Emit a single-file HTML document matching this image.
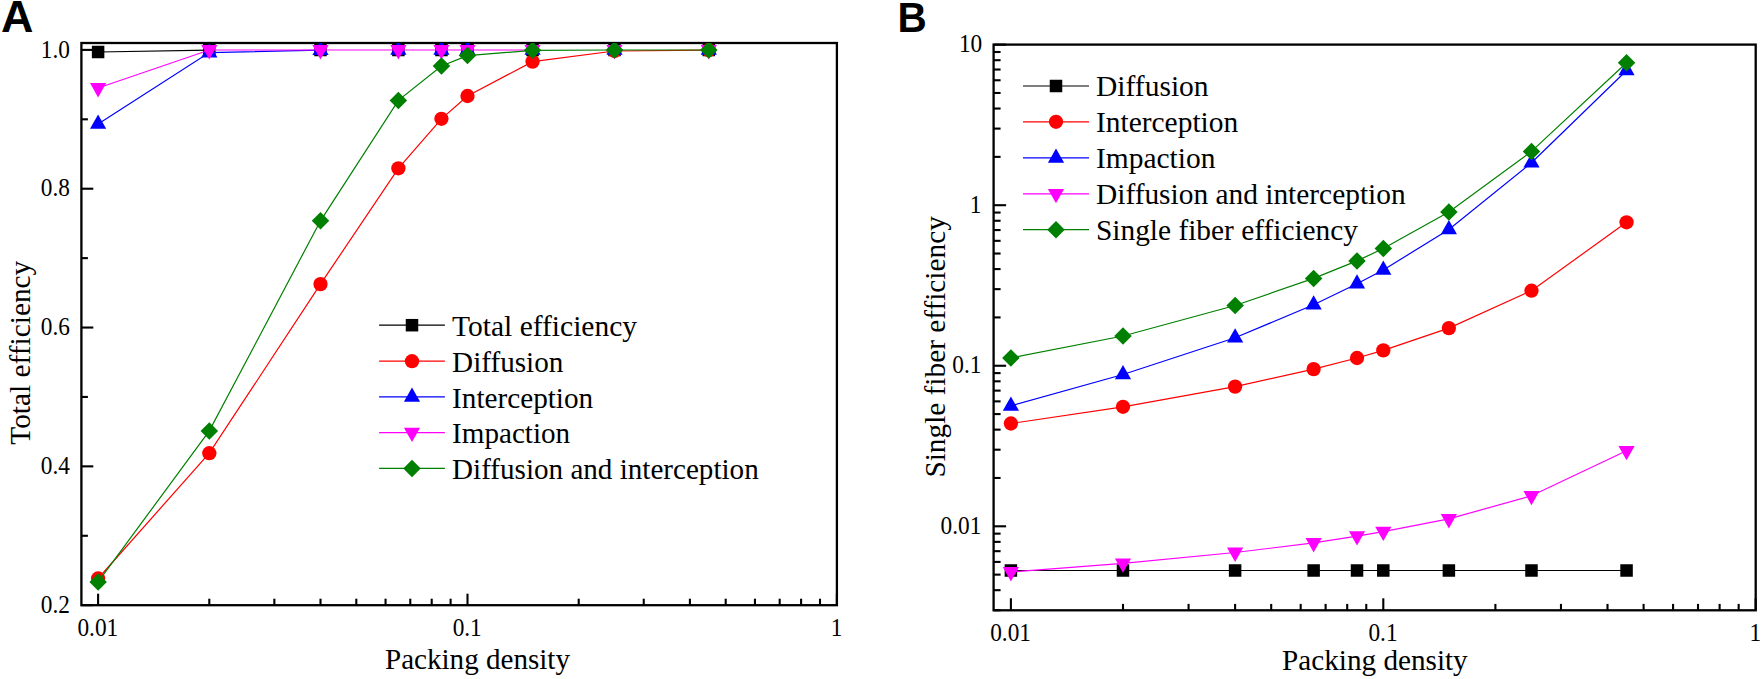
<!DOCTYPE html>
<html><head><meta charset="utf-8"><title>Figure</title>
<style>html,body{margin:0;padding:0;background:#fff}svg{display:block}</style></head>
<body><svg width="1762" height="679" viewBox="0 0 1762 679">
<rect width="1762" height="679" fill="#ffffff"/>
<g id="panelA">
<line x1="81.4" y1="605.18" x2="93.30000000000001" y2="605.18" stroke="#000" stroke-width="2.1"/>
<line x1="81.4" y1="466.36" x2="93.30000000000001" y2="466.36" stroke="#000" stroke-width="2.1"/>
<line x1="81.4" y1="327.54" x2="93.30000000000001" y2="327.54" stroke="#000" stroke-width="2.1"/>
<line x1="81.4" y1="188.72" x2="93.30000000000001" y2="188.72" stroke="#000" stroke-width="2.1"/>
<line x1="81.4" y1="49.90" x2="93.30000000000001" y2="49.90" stroke="#000" stroke-width="2.1"/>
<line x1="81.4" y1="535.77" x2="87.9" y2="535.77" stroke="#000" stroke-width="2.1"/>
<line x1="81.4" y1="396.95" x2="87.9" y2="396.95" stroke="#000" stroke-width="2.1"/>
<line x1="81.4" y1="258.13" x2="87.9" y2="258.13" stroke="#000" stroke-width="2.1"/>
<line x1="81.4" y1="119.31" x2="87.9" y2="119.31" stroke="#000" stroke-width="2.1"/>
<line x1="98.10" y1="605.2" x2="98.10" y2="593.7" stroke="#000" stroke-width="2.1"/>
<line x1="209.30" y1="605.2" x2="209.30" y2="598.7" stroke="#000" stroke-width="2.1"/>
<line x1="274.35" y1="605.2" x2="274.35" y2="598.7" stroke="#000" stroke-width="2.1"/>
<line x1="320.50" y1="605.2" x2="320.50" y2="598.7" stroke="#000" stroke-width="2.1"/>
<line x1="356.30" y1="605.2" x2="356.30" y2="598.7" stroke="#000" stroke-width="2.1"/>
<line x1="385.55" y1="605.2" x2="385.55" y2="598.7" stroke="#000" stroke-width="2.1"/>
<line x1="410.28" y1="605.2" x2="410.28" y2="598.7" stroke="#000" stroke-width="2.1"/>
<line x1="431.70" y1="605.2" x2="431.70" y2="598.7" stroke="#000" stroke-width="2.1"/>
<line x1="450.60" y1="605.2" x2="450.60" y2="598.7" stroke="#000" stroke-width="2.1"/>
<line x1="467.50" y1="605.2" x2="467.50" y2="593.7" stroke="#000" stroke-width="2.1"/>
<line x1="578.70" y1="605.2" x2="578.70" y2="598.7" stroke="#000" stroke-width="2.1"/>
<line x1="643.75" y1="605.2" x2="643.75" y2="598.7" stroke="#000" stroke-width="2.1"/>
<line x1="689.90" y1="605.2" x2="689.90" y2="598.7" stroke="#000" stroke-width="2.1"/>
<line x1="725.70" y1="605.2" x2="725.70" y2="598.7" stroke="#000" stroke-width="2.1"/>
<line x1="754.95" y1="605.2" x2="754.95" y2="598.7" stroke="#000" stroke-width="2.1"/>
<line x1="779.68" y1="605.2" x2="779.68" y2="598.7" stroke="#000" stroke-width="2.1"/>
<line x1="801.10" y1="605.2" x2="801.10" y2="598.7" stroke="#000" stroke-width="2.1"/>
<line x1="820.00" y1="605.2" x2="820.00" y2="598.7" stroke="#000" stroke-width="2.1"/>
<line x1="836.90" y1="605.2" x2="836.90" y2="593.7" stroke="#000" stroke-width="2.1"/>
<rect x="81.4" y="43.0" width="755.5" height="562.2" fill="none" stroke="#000" stroke-width="2.3"/>
<clipPath id="clipA"><rect x="81.4" y="43.0" width="755.5" height="562.2"/></clipPath><g clip-path="url(#clipA)">
<polyline points="98.10,52.00 209.30,50.20" fill="none" stroke="#000000" stroke-width="1.2"/>
<rect x="91.85" y="45.75" width="12.50" height="12.50" fill="#000000"/>
<rect x="203.05" y="43.95" width="12.50" height="12.50" fill="#000000"/>
<rect x="314.25" y="43.75" width="12.50" height="12.50" fill="#000000"/>
<rect x="392.14" y="43.75" width="12.50" height="12.50" fill="#000000"/>
<rect x="435.18" y="43.75" width="12.50" height="12.50" fill="#000000"/>
<rect x="461.25" y="43.75" width="12.50" height="12.50" fill="#000000"/>
<rect x="526.30" y="43.75" width="12.50" height="12.50" fill="#000000"/>
<rect x="608.25" y="43.75" width="12.50" height="12.50" fill="#000000"/>
<rect x="702.55" y="43.75" width="12.50" height="12.50" fill="#000000"/>
<polyline points="98.10,578.50 209.30,453.20 320.50,284.10 398.39,168.30 441.43,118.80 467.50,96.00 532.55,61.60 614.50,51.00 708.80,50.20" fill="none" stroke="#ff0000" stroke-width="1.2"/>
<circle cx="98.10" cy="578.50" r="7.15" fill="#ff0000"/>
<circle cx="209.30" cy="453.20" r="7.15" fill="#ff0000"/>
<circle cx="320.50" cy="284.10" r="7.15" fill="#ff0000"/>
<circle cx="398.39" cy="168.30" r="7.15" fill="#ff0000"/>
<circle cx="441.43" cy="118.80" r="7.15" fill="#ff0000"/>
<circle cx="467.50" cy="96.00" r="7.15" fill="#ff0000"/>
<circle cx="532.55" cy="61.60" r="7.15" fill="#ff0000"/>
<circle cx="614.50" cy="51.00" r="7.15" fill="#ff0000"/>
<circle cx="708.80" cy="50.20" r="7.15" fill="#ff0000"/>
<polyline points="98.10,124.00 209.30,52.60 320.50,50.20" fill="none" stroke="#0000ff" stroke-width="1.2"/>
<polygon points="98.10,114.50 106.20,128.80 90.00,128.80" fill="#0000ff"/>
<polygon points="209.30,43.10 217.40,57.40 201.20,57.40" fill="#0000ff"/>
<polygon points="320.50,40.70 328.60,55.00 312.40,55.00" fill="#0000ff"/>
<polygon points="398.39,40.50 406.49,54.80 390.29,54.80" fill="#0000ff"/>
<polygon points="441.43,40.50 449.53,54.80 433.33,54.80" fill="#0000ff"/>
<polygon points="467.50,40.50 475.60,54.80 459.40,54.80" fill="#0000ff"/>
<polygon points="532.55,40.50 540.65,54.80 524.45,54.80" fill="#0000ff"/>
<polygon points="614.50,40.50 622.60,54.80 606.40,54.80" fill="#0000ff"/>
<polygon points="708.80,40.50 716.90,54.80 700.70,54.80" fill="#0000ff"/>
<polyline points="98.10,88.00 209.30,50.00 320.50,50.00 398.39,50.00 441.43,50.00 467.50,50.00 532.55,50.00" fill="none" stroke="#ff00ff" stroke-width="1.2"/>
<polygon points="98.10,97.50 106.20,83.10 90.00,83.10" fill="#ff00ff"/>
<polygon points="209.30,59.50 217.40,45.10 201.20,45.10" fill="#ff00ff"/>
<polygon points="320.50,59.50 328.60,45.10 312.40,45.10" fill="#ff00ff"/>
<polygon points="398.39,59.50 406.49,45.10 390.29,45.10" fill="#ff00ff"/>
<polygon points="441.43,59.50 449.53,45.10 433.33,45.10" fill="#ff00ff"/>
<polygon points="467.50,59.50 475.60,45.10 459.40,45.10" fill="#ff00ff"/>
<polygon points="532.55,59.50 540.65,45.10 524.45,45.10" fill="#ff00ff"/>
<polygon points="614.50,59.50 622.60,45.10 606.40,45.10" fill="#ff00ff"/>
<polygon points="708.80,59.50 716.90,45.10 700.70,45.10" fill="#ff00ff"/>
<polyline points="98.10,581.90 209.30,430.90 320.50,220.80 398.39,100.40 441.43,66.00 467.50,55.60 532.55,50.30 614.50,50.00 708.80,50.00" fill="none" stroke="#008000" stroke-width="1.2"/>
<polygon points="98.10,573.15 106.85,581.90 98.10,590.65 89.35,581.90" fill="#008000"/>
<polygon points="209.30,422.15 218.05,430.90 209.30,439.65 200.55,430.90" fill="#008000"/>
<polygon points="320.50,212.05 329.25,220.80 320.50,229.55 311.75,220.80" fill="#008000"/>
<polygon points="398.39,91.65 407.14,100.40 398.39,109.15 389.64,100.40" fill="#008000"/>
<polygon points="441.43,57.25 450.18,66.00 441.43,74.75 432.68,66.00" fill="#008000"/>
<polygon points="467.50,46.85 476.25,55.60 467.50,64.35 458.75,55.60" fill="#008000"/>
<polygon points="532.55,41.55 541.30,50.30 532.55,59.05 523.80,50.30" fill="#008000"/>
<polygon points="614.50,41.25 623.25,50.00 614.50,58.75 605.75,50.00" fill="#008000"/>
<polygon points="708.80,41.25 717.55,50.00 708.80,58.75 700.05,50.00" fill="#008000"/>
</g>
<text transform="translate(69.9,57.60) scale(0.925,1)" font-family="Liberation Serif, serif" font-size="25.2" text-anchor="end">1.0</text>
<text transform="translate(69.9,196.42) scale(0.925,1)" font-family="Liberation Serif, serif" font-size="25.2" text-anchor="end">0.8</text>
<text transform="translate(69.9,335.24) scale(0.925,1)" font-family="Liberation Serif, serif" font-size="25.2" text-anchor="end">0.6</text>
<text transform="translate(69.9,474.06) scale(0.925,1)" font-family="Liberation Serif, serif" font-size="25.2" text-anchor="end">0.4</text>
<text transform="translate(69.9,612.88) scale(0.925,1)" font-family="Liberation Serif, serif" font-size="25.2" text-anchor="end">0.2</text>
<text transform="translate(97.80,635.6) scale(0.925,1)" font-family="Liberation Serif, serif" font-size="25.2" text-anchor="middle">0.01</text>
<text transform="translate(467.20,635.6) scale(0.925,1)" font-family="Liberation Serif, serif" font-size="25.2" text-anchor="middle">0.1</text>
<text transform="translate(836.60,635.6) scale(0.925,1)" font-family="Liberation Serif, serif" font-size="25.2" text-anchor="middle">1</text>
<text x="477.5" y="669.3" font-family="Liberation Serif, serif" font-size="29.5" text-anchor="middle" textLength="185" lengthAdjust="spacingAndGlyphs">Packing density</text>
<text transform="translate(30,352.7) rotate(-90)" font-family="Liberation Serif, serif" font-size="29.5" text-anchor="middle" textLength="184" lengthAdjust="spacingAndGlyphs">Total efficiency</text>
<line x1="379.1" y1="325.2" x2="444.9" y2="325.2" stroke="#000000" stroke-width="1.2"/>
<rect x="405.75" y="318.95" width="12.50" height="12.50" fill="#000000"/>
<text x="452.1" y="336.10" font-family="Liberation Serif, serif" font-size="29.5" textLength="184.9" lengthAdjust="spacingAndGlyphs">Total efficiency</text>
<line x1="379.1" y1="361.2" x2="444.9" y2="361.2" stroke="#ff0000" stroke-width="1.2"/>
<circle cx="412.00" cy="361.20" r="7.15" fill="#ff0000"/>
<text x="452.1" y="371.80" font-family="Liberation Serif, serif" font-size="29.5" textLength="111.2" lengthAdjust="spacingAndGlyphs">Diffusion</text>
<line x1="379.1" y1="396.9" x2="444.9" y2="396.9" stroke="#0000ff" stroke-width="1.2"/>
<polygon points="412.00,387.40 420.10,401.70 403.90,401.70" fill="#0000ff"/>
<text x="452.1" y="407.50" font-family="Liberation Serif, serif" font-size="29.5" textLength="141.1" lengthAdjust="spacingAndGlyphs">Interception</text>
<line x1="379.1" y1="432.6" x2="444.9" y2="432.6" stroke="#ff00ff" stroke-width="1.2"/>
<polygon points="412.00,442.10 420.10,427.70 403.90,427.70" fill="#ff00ff"/>
<text x="452.1" y="443.20" font-family="Liberation Serif, serif" font-size="29.5" textLength="118.1" lengthAdjust="spacingAndGlyphs">Impaction</text>
<line x1="379.1" y1="468.4" x2="444.9" y2="468.4" stroke="#008000" stroke-width="1.2"/>
<polygon points="412.00,459.65 420.75,468.40 412.00,477.15 403.25,468.40" fill="#008000"/>
<text x="452.1" y="478.90" font-family="Liberation Serif, serif" font-size="29.5" textLength="306.6" lengthAdjust="spacingAndGlyphs">Diffusion and interception</text>
<text transform="translate(0.9,32.4) scale(1.0,1)" font-family="Liberation Sans, sans-serif" font-weight="bold" font-size="44.9">A</text>
</g>
<g id="panelB">
<line x1="993.6" y1="610.25" x2="1000.6" y2="610.25" stroke="#000" stroke-width="2.1"/>
<line x1="993.6" y1="590.19" x2="1000.6" y2="590.19" stroke="#000" stroke-width="2.1"/>
<line x1="993.6" y1="574.63" x2="1000.6" y2="574.63" stroke="#000" stroke-width="2.1"/>
<line x1="993.6" y1="561.92" x2="1000.6" y2="561.92" stroke="#000" stroke-width="2.1"/>
<line x1="993.6" y1="551.17" x2="1000.6" y2="551.17" stroke="#000" stroke-width="2.1"/>
<line x1="993.6" y1="541.86" x2="1000.6" y2="541.86" stroke="#000" stroke-width="2.1"/>
<line x1="993.6" y1="533.65" x2="1000.6" y2="533.65" stroke="#000" stroke-width="2.1"/>
<line x1="993.6" y1="526.30" x2="1006.1" y2="526.30" stroke="#000" stroke-width="2.1"/>
<line x1="993.6" y1="477.97" x2="1000.6" y2="477.97" stroke="#000" stroke-width="2.1"/>
<line x1="993.6" y1="449.70" x2="1000.6" y2="449.70" stroke="#000" stroke-width="2.1"/>
<line x1="993.6" y1="429.64" x2="1000.6" y2="429.64" stroke="#000" stroke-width="2.1"/>
<line x1="993.6" y1="414.08" x2="1000.6" y2="414.08" stroke="#000" stroke-width="2.1"/>
<line x1="993.6" y1="401.37" x2="1000.6" y2="401.37" stroke="#000" stroke-width="2.1"/>
<line x1="993.6" y1="390.62" x2="1000.6" y2="390.62" stroke="#000" stroke-width="2.1"/>
<line x1="993.6" y1="381.31" x2="1000.6" y2="381.31" stroke="#000" stroke-width="2.1"/>
<line x1="993.6" y1="373.10" x2="1000.6" y2="373.10" stroke="#000" stroke-width="2.1"/>
<line x1="993.6" y1="365.75" x2="1006.1" y2="365.75" stroke="#000" stroke-width="2.1"/>
<line x1="993.6" y1="317.42" x2="1000.6" y2="317.42" stroke="#000" stroke-width="2.1"/>
<line x1="993.6" y1="289.15" x2="1000.6" y2="289.15" stroke="#000" stroke-width="2.1"/>
<line x1="993.6" y1="269.09" x2="1000.6" y2="269.09" stroke="#000" stroke-width="2.1"/>
<line x1="993.6" y1="253.53" x2="1000.6" y2="253.53" stroke="#000" stroke-width="2.1"/>
<line x1="993.6" y1="240.82" x2="1000.6" y2="240.82" stroke="#000" stroke-width="2.1"/>
<line x1="993.6" y1="230.07" x2="1000.6" y2="230.07" stroke="#000" stroke-width="2.1"/>
<line x1="993.6" y1="220.76" x2="1000.6" y2="220.76" stroke="#000" stroke-width="2.1"/>
<line x1="993.6" y1="212.55" x2="1000.6" y2="212.55" stroke="#000" stroke-width="2.1"/>
<line x1="993.6" y1="205.20" x2="1006.1" y2="205.20" stroke="#000" stroke-width="2.1"/>
<line x1="993.6" y1="156.87" x2="1000.6" y2="156.87" stroke="#000" stroke-width="2.1"/>
<line x1="993.6" y1="128.60" x2="1000.6" y2="128.60" stroke="#000" stroke-width="2.1"/>
<line x1="993.6" y1="108.54" x2="1000.6" y2="108.54" stroke="#000" stroke-width="2.1"/>
<line x1="993.6" y1="92.98" x2="1000.6" y2="92.98" stroke="#000" stroke-width="2.1"/>
<line x1="993.6" y1="80.27" x2="1000.6" y2="80.27" stroke="#000" stroke-width="2.1"/>
<line x1="993.6" y1="69.52" x2="1000.6" y2="69.52" stroke="#000" stroke-width="2.1"/>
<line x1="993.6" y1="60.21" x2="1000.6" y2="60.21" stroke="#000" stroke-width="2.1"/>
<line x1="993.6" y1="52.00" x2="1000.6" y2="52.00" stroke="#000" stroke-width="2.1"/>
<line x1="993.6" y1="44.65" x2="1006.1" y2="44.65" stroke="#000" stroke-width="2.1"/>
<line x1="1010.90" y1="610.3" x2="1010.90" y2="598.3" stroke="#000" stroke-width="2.1"/>
<line x1="1123.00" y1="610.3" x2="1123.00" y2="603.9" stroke="#000" stroke-width="2.1"/>
<line x1="1188.58" y1="610.3" x2="1188.58" y2="603.9" stroke="#000" stroke-width="2.1"/>
<line x1="1235.11" y1="610.3" x2="1235.11" y2="603.9" stroke="#000" stroke-width="2.1"/>
<line x1="1271.20" y1="610.3" x2="1271.20" y2="603.9" stroke="#000" stroke-width="2.1"/>
<line x1="1300.68" y1="610.3" x2="1300.68" y2="603.9" stroke="#000" stroke-width="2.1"/>
<line x1="1325.61" y1="610.3" x2="1325.61" y2="603.9" stroke="#000" stroke-width="2.1"/>
<line x1="1347.21" y1="610.3" x2="1347.21" y2="603.9" stroke="#000" stroke-width="2.1"/>
<line x1="1366.26" y1="610.3" x2="1366.26" y2="603.9" stroke="#000" stroke-width="2.1"/>
<line x1="1383.30" y1="610.3" x2="1383.30" y2="598.3" stroke="#000" stroke-width="2.1"/>
<line x1="1495.40" y1="610.3" x2="1495.40" y2="603.9" stroke="#000" stroke-width="2.1"/>
<line x1="1560.98" y1="610.3" x2="1560.98" y2="603.9" stroke="#000" stroke-width="2.1"/>
<line x1="1607.51" y1="610.3" x2="1607.51" y2="603.9" stroke="#000" stroke-width="2.1"/>
<line x1="1643.60" y1="610.3" x2="1643.60" y2="603.9" stroke="#000" stroke-width="2.1"/>
<line x1="1673.08" y1="610.3" x2="1673.08" y2="603.9" stroke="#000" stroke-width="2.1"/>
<line x1="1698.01" y1="610.3" x2="1698.01" y2="603.9" stroke="#000" stroke-width="2.1"/>
<line x1="1719.61" y1="610.3" x2="1719.61" y2="603.9" stroke="#000" stroke-width="2.1"/>
<line x1="1738.66" y1="610.3" x2="1738.66" y2="603.9" stroke="#000" stroke-width="2.1"/>
<line x1="1755.70" y1="610.3" x2="1755.70" y2="598.3" stroke="#000" stroke-width="2.1"/>
<rect x="993.6" y="44.6" width="762.1" height="565.6999999999999" fill="none" stroke="#000" stroke-width="2.3"/>
<polyline points="1010.90,570.50 1123.00,570.50 1235.11,570.50 1313.63,570.50 1357.02,570.50 1383.30,570.50 1448.88,570.50 1531.49,570.50 1626.56,570.50" fill="none" stroke="#000000" stroke-width="1.2"/>
<rect x="1004.65" y="564.25" width="12.50" height="12.50" fill="#000000"/>
<rect x="1116.75" y="564.25" width="12.50" height="12.50" fill="#000000"/>
<rect x="1228.86" y="564.25" width="12.50" height="12.50" fill="#000000"/>
<rect x="1307.38" y="564.25" width="12.50" height="12.50" fill="#000000"/>
<rect x="1350.77" y="564.25" width="12.50" height="12.50" fill="#000000"/>
<rect x="1377.05" y="564.25" width="12.50" height="12.50" fill="#000000"/>
<rect x="1442.63" y="564.25" width="12.50" height="12.50" fill="#000000"/>
<rect x="1525.24" y="564.25" width="12.50" height="12.50" fill="#000000"/>
<rect x="1620.31" y="564.25" width="12.50" height="12.50" fill="#000000"/>
<polyline points="1010.90,423.50 1123.00,406.80 1235.11,386.60 1313.63,369.10 1357.02,358.00 1383.30,350.40 1448.88,328.10 1531.49,290.70 1626.56,222.30" fill="none" stroke="#ff0000" stroke-width="1.2"/>
<circle cx="1010.90" cy="423.50" r="7.15" fill="#ff0000"/>
<circle cx="1123.00" cy="406.80" r="7.15" fill="#ff0000"/>
<circle cx="1235.11" cy="386.60" r="7.15" fill="#ff0000"/>
<circle cx="1313.63" cy="369.10" r="7.15" fill="#ff0000"/>
<circle cx="1357.02" cy="358.00" r="7.15" fill="#ff0000"/>
<circle cx="1383.30" cy="350.40" r="7.15" fill="#ff0000"/>
<circle cx="1448.88" cy="328.10" r="7.15" fill="#ff0000"/>
<circle cx="1531.49" cy="290.70" r="7.15" fill="#ff0000"/>
<circle cx="1626.56" cy="222.30" r="7.15" fill="#ff0000"/>
<polyline points="1010.90,405.90 1123.00,374.50 1235.11,337.80 1313.63,304.70 1357.02,283.80 1383.30,270.00 1448.88,229.50 1531.49,162.80 1626.56,70.50" fill="none" stroke="#0000ff" stroke-width="1.2"/>
<polygon points="1010.90,396.40 1019.00,410.70 1002.80,410.70" fill="#0000ff"/>
<polygon points="1123.00,365.00 1131.10,379.30 1114.90,379.30" fill="#0000ff"/>
<polygon points="1235.11,328.30 1243.21,342.60 1227.01,342.60" fill="#0000ff"/>
<polygon points="1313.63,295.20 1321.73,309.50 1305.53,309.50" fill="#0000ff"/>
<polygon points="1357.02,274.30 1365.12,288.60 1348.92,288.60" fill="#0000ff"/>
<polygon points="1383.30,260.50 1391.40,274.80 1375.20,274.80" fill="#0000ff"/>
<polygon points="1448.88,220.00 1456.98,234.30 1440.78,234.30" fill="#0000ff"/>
<polygon points="1531.49,153.30 1539.59,167.60 1523.39,167.60" fill="#0000ff"/>
<polygon points="1626.56,61.00 1634.66,75.30 1618.46,75.30" fill="#0000ff"/>
<polyline points="1010.90,572.00 1123.00,563.30 1235.11,552.50 1313.63,542.90 1357.02,536.10 1383.30,531.60 1448.88,518.90 1531.49,495.80 1626.56,450.80" fill="none" stroke="#ff00ff" stroke-width="1.2"/>
<polygon points="1010.90,581.50 1019.00,567.10 1002.80,567.10" fill="#ff00ff"/>
<polygon points="1123.00,572.80 1131.10,558.40 1114.90,558.40" fill="#ff00ff"/>
<polygon points="1235.11,562.00 1243.21,547.60 1227.01,547.60" fill="#ff00ff"/>
<polygon points="1313.63,552.40 1321.73,538.00 1305.53,538.00" fill="#ff00ff"/>
<polygon points="1357.02,545.60 1365.12,531.20 1348.92,531.20" fill="#ff00ff"/>
<polygon points="1383.30,541.10 1391.40,526.70 1375.20,526.70" fill="#ff00ff"/>
<polygon points="1448.88,528.40 1456.98,514.00 1440.78,514.00" fill="#ff00ff"/>
<polygon points="1531.49,505.30 1539.59,490.90 1523.39,490.90" fill="#ff00ff"/>
<polygon points="1626.56,460.30 1634.66,445.90 1618.46,445.90" fill="#ff00ff"/>
<polyline points="1010.90,357.90 1123.00,336.00 1235.11,305.50 1313.63,278.40 1357.02,260.90 1383.30,248.50 1448.88,211.90 1531.49,151.40 1626.56,62.70" fill="none" stroke="#008000" stroke-width="1.2"/>
<polygon points="1010.90,349.15 1019.65,357.90 1010.90,366.65 1002.15,357.90" fill="#008000"/>
<polygon points="1123.00,327.25 1131.75,336.00 1123.00,344.75 1114.25,336.00" fill="#008000"/>
<polygon points="1235.11,296.75 1243.86,305.50 1235.11,314.25 1226.36,305.50" fill="#008000"/>
<polygon points="1313.63,269.65 1322.38,278.40 1313.63,287.15 1304.88,278.40" fill="#008000"/>
<polygon points="1357.02,252.15 1365.77,260.90 1357.02,269.65 1348.27,260.90" fill="#008000"/>
<polygon points="1383.30,239.75 1392.05,248.50 1383.30,257.25 1374.55,248.50" fill="#008000"/>
<polygon points="1448.88,203.15 1457.63,211.90 1448.88,220.65 1440.13,211.90" fill="#008000"/>
<polygon points="1531.49,142.65 1540.24,151.40 1531.49,160.15 1522.74,151.40" fill="#008000"/>
<polygon points="1626.56,53.95 1635.31,62.70 1626.56,71.45 1617.81,62.70" fill="#008000"/>
<text transform="translate(982.2,51.75) scale(0.925,1)" font-family="Liberation Serif, serif" font-size="25.2" text-anchor="end">10</text>
<text transform="translate(981.4,213.10) scale(0.925,1)" font-family="Liberation Serif, serif" font-size="25.2" text-anchor="end">1</text>
<text transform="translate(981.4,373.15) scale(0.925,1)" font-family="Liberation Serif, serif" font-size="25.2" text-anchor="end">0.1</text>
<text transform="translate(981.4,534.30) scale(0.925,1)" font-family="Liberation Serif, serif" font-size="25.2" text-anchor="end">0.01</text>
<text transform="translate(1010.60,640.8) scale(0.925,1)" font-family="Liberation Serif, serif" font-size="25.2" text-anchor="middle">0.01</text>
<text transform="translate(1383.00,640.8) scale(0.925,1)" font-family="Liberation Serif, serif" font-size="25.2" text-anchor="middle">0.1</text>
<text transform="translate(1755.40,640.8) scale(0.925,1)" font-family="Liberation Serif, serif" font-size="25.2" text-anchor="middle">1</text>
<text x="1374.9" y="669.9" font-family="Liberation Serif, serif" font-size="29.5" text-anchor="middle" textLength="185.6" lengthAdjust="spacingAndGlyphs">Packing density</text>
<text transform="translate(945.2,346.9) rotate(-90)" font-family="Liberation Serif, serif" font-size="29.5" text-anchor="middle" textLength="261.4" lengthAdjust="spacingAndGlyphs">Single fiber efficiency</text>
<line x1="1023" y1="86.0" x2="1089" y2="86.0" stroke="#000000" stroke-width="1.2"/>
<rect x="1049.75" y="79.75" width="12.50" height="12.50" fill="#000000"/>
<text x="1096.0" y="96.45" font-family="Liberation Serif, serif" font-size="29.6" textLength="112.6" lengthAdjust="spacingAndGlyphs">Diffusion</text>
<line x1="1023" y1="121.8" x2="1089" y2="121.8" stroke="#ff0000" stroke-width="1.2"/>
<circle cx="1056.00" cy="121.80" r="7.15" fill="#ff0000"/>
<text x="1096.0" y="132.35" font-family="Liberation Serif, serif" font-size="29.6" textLength="142.2" lengthAdjust="spacingAndGlyphs">Interception</text>
<line x1="1023" y1="157.9" x2="1089" y2="157.9" stroke="#0000ff" stroke-width="1.2"/>
<polygon points="1056.00,148.40 1064.10,162.70 1047.90,162.70" fill="#0000ff"/>
<text x="1096.0" y="168.25" font-family="Liberation Serif, serif" font-size="29.6" textLength="119.4" lengthAdjust="spacingAndGlyphs">Impaction</text>
<line x1="1023" y1="193.8" x2="1089" y2="193.8" stroke="#ff00ff" stroke-width="1.2"/>
<polygon points="1056.00,203.30 1064.10,188.90 1047.90,188.90" fill="#ff00ff"/>
<text x="1096.0" y="204.15" font-family="Liberation Serif, serif" font-size="29.6" textLength="309.6" lengthAdjust="spacingAndGlyphs">Diffusion and interception</text>
<line x1="1023" y1="229.7" x2="1089" y2="229.7" stroke="#008000" stroke-width="1.2"/>
<polygon points="1056.00,220.95 1064.75,229.70 1056.00,238.45 1047.25,229.70" fill="#008000"/>
<text x="1096.0" y="240.05" font-family="Liberation Serif, serif" font-size="29.6" textLength="262.0" lengthAdjust="spacingAndGlyphs">Single fiber efficiency</text>
<text transform="translate(897.6,32.4) scale(0.94,1)" font-family="Liberation Sans, sans-serif" font-weight="bold" font-size="43.1">B</text>
</g>
</svg></body></html>
